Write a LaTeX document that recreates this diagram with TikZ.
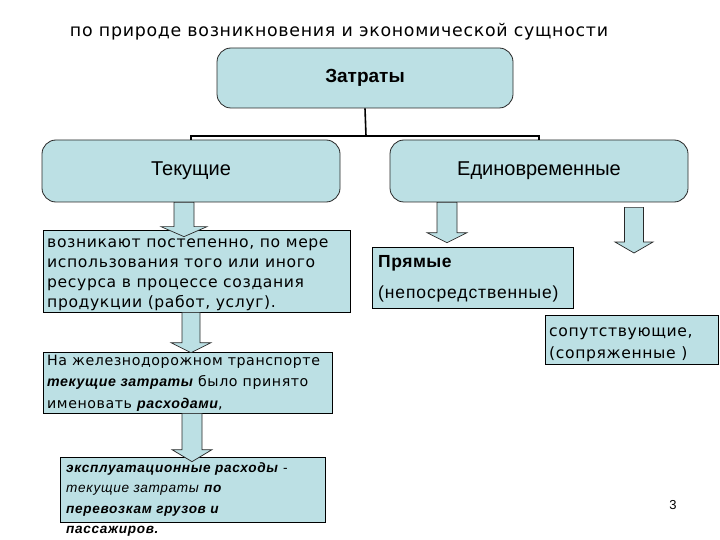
\documentclass[tikz,border=0pt]{standalone}
\usepackage{fontspec}
\setmainfont{Liberation Sans}
\newfontfamily\comic{DejaVu Sans}[LetterSpace=4]
\usetikzlibrary{calc}
\definecolor{boxfill}{RGB}{188,224,228}
\definecolor{boxline}{RGB}{40,40,40}
\tikzset{
  roundbox/.style={draw=boxline, line width=0.8pt, fill=boxfill, rounded corners=14pt, inner sep=0pt},
  textbox/.style={draw=black, line width=0.7pt, fill=boxfill, inner sep=0pt},
  barrow/.style={draw=boxline, line width=0.7pt, fill=boxfill},
  tree/.style={draw=black, line width=1.6pt},
  txt/.style={inner sep=0pt, align=left},
}
\newcommand\blockarrow[6]{%
  \draw[barrow] let \p1=#2, \p2=#3 in
  (#1pt-#4pt,\y1) -- (#1pt+#4pt,\y1) -- (#1pt+#4pt,\y2+#6pt) -- (#1pt+#5pt,\y2+#6pt)
  -- (#1pt,\y2) -- (#1pt-#5pt,\y2+#6pt) -- (#1pt-#4pt,\y2+#6pt) -- cycle;}
\begin{document}
\begin{tikzpicture}[x=1pt,y=-1pt]
\useasboundingbox (0,0) rectangle (720,540);
\node[fill=white, minimum width=720pt, minimum height=540pt, inner sep=0pt] (bg) at (360,270) {};

% title
\node[font=\comic\fontsize{17.4}{20}\selectfont] (title) at (339,32) {по природе возникновения и экономической сущности};

% main boxes
\node[roundbox, minimum width=296pt, minimum height=60pt, font=\bfseries\fontsize{19}{22}\selectfont] (z) at (365,78) {Затраты};
\node[roundbox, minimum width=298pt, minimum height=62pt, font=\fontsize{20}{23}\selectfont] (t) at (191,171) {Текущие};
\node[roundbox, minimum width=298pt, minimum height=62pt, font=\fontsize{20}{23}\selectfont] (e) at (539,171) {Единовременные};

% tree
\coordinate (j) at (366,136);
\draw[tree] (z.south) -- (j);
\draw[tree] (t.north) |- (j) -| (e.north);

% left column boxes
\node[textbox, minimum width=307pt, minimum height=82pt] (b1) at (196.5,271) {};
\node[txt, anchor=west, font=\comic\fontsize{15.6}{20}\selectfont] (b1t) at (47,275)
  {возникают постепенно, по мере\\использования того или иного\\ресурса в процессе создания\\продукции (работ, услуг).};
\node[textbox, minimum width=289pt, minimum height=61pt] (b2) at (187.5,382.5) {};
\node[txt, anchor=west, font=\comic\fontsize{14.2}{21.5}\selectfont] (b2t) at (47,383)
  {На железнодорожном транспорте\\{\fontspec{Liberation Sans}[LetterSpace=4]\bfseries\itshape текущие затраты} было принято\\именовать {\fontspec{Liberation Sans}[LetterSpace=4]\bfseries\itshape расходами},};
\node[textbox, minimum width=265pt, minimum height=65pt] (b3) at (192.5,489.5) {};
\node[txt, anchor=north west,
  font=\addfontfeatures{LetterSpace=5}\fontsize{13.6}{20.5}\selectfont] (b3t) at (66,462)
  {\textbf{\textit{эксплуатационные расходы}} -\\\textit{текущие затраты} \textbf{\textit{по}}\\\textbf{\textit{перевозкам грузов и}}\\\textbf{\textit{пассажиров.}}};

% right boxes
\node[textbox, minimum width=201pt, minimum height=61pt] (p) at (472.5,277.5) {};
\node[txt, anchor=west, font=\bfseries\addfontfeatures{LetterSpace=3}\fontsize{17.5}{20}\selectfont] (pt1) at (378,263) {Прямые};
\node[txt, anchor=west, font=\addfontfeatures{LetterSpace=5}\fontsize{17.5}{20}\selectfont] (pt2) at (378,294) {(непосредственные)};
\node[textbox, minimum width=173pt, minimum height=49pt] (s) at (631.5,339.5) {};
\node[txt, anchor=west, font=\comic\fontsize{15.6}{22}\selectfont] (st) at (549,345) {сопутствующие,\\(сопряженные )};

% block arrows
\blockarrow{184}{(t.south)}{($(b1.north)+(0,7)$)}{10}{23}{10}
\blockarrow{191}{(b1.south)}{($(b2.north)+(0,1)$)}{9}{20}{10}
\blockarrow{192}{(b2.south)}{($(b3.north)+(0,5)$)}{10}{20}{12}
\blockarrow{447}{(e.south)}{($(p.north)+(0,-4)$)}{10}{20}{10}
\coordinate (tip5) at (634,253);
\blockarrow{634}{($(e.south)+(0,5)$)}{(tip5)}{9.5}{19}{11}

% page number
\node[font=\fontsize{13}{15}\selectfont] (pg) at (673,505) {3};
\end{tikzpicture}
\end{document}
